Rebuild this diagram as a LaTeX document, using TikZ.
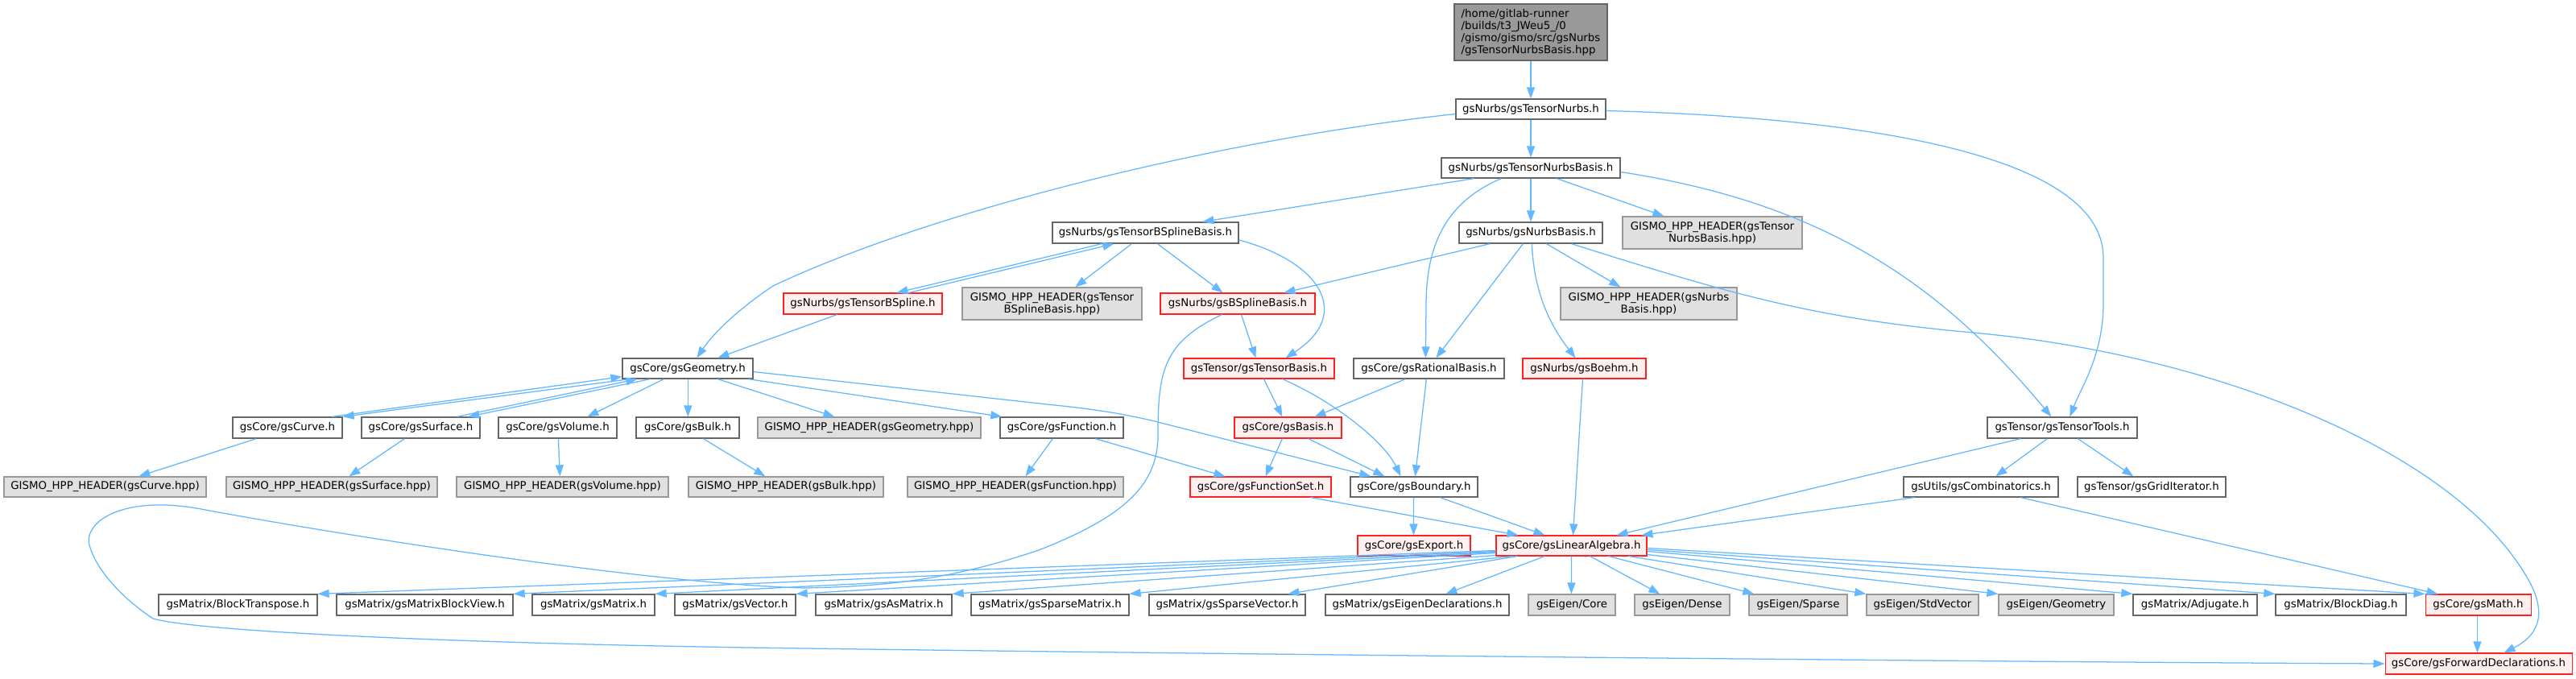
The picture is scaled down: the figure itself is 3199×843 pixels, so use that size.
\documentclass[tikz,border=0pt]{standalone}
\usepackage{fontspec}
\setmainfont{DejaVu Sans}
\usetikzlibrary{arrows.meta,calc}
\definecolor{edgec}{HTML}{63B8FF}
\definecolor{nborder}{HTML}{666666}
\definecolor{gborder}{HTML}{999999}
\definecolor{gfill}{HTML}{E0E0E0}
\definecolor{rfill}{HTML}{FFF0F0}
\definecolor{rborder}{HTML}{FF2020}
\definecolor{rootfill}{HTML}{999999}
\newcommand\mkbox[7]{\node[#1,minimum width={(#5-#3)*0.01cm},minimum height={(#6-#4)*0.01cm}] (#2) at ({(#3+#5)/2},{(#4+#6)/2}) {#7};}
\begin{document}
\begin{tikzpicture}[x=0.01cm,y=-0.01cm,
  box/.style={rectangle, inner sep=0pt, line width=0.36pt, font=\fontsize{3.79pt}{4.25pt}\selectfont, text=black, align=center},
  nn/.style={box, draw=nborder, fill=white},
  rn/.style={box, draw=rborder, fill=rfill, line width=0.3pt},
  gn/.style={box, draw=gborder, fill=gfill},
  rootn/.style={box, draw=nborder, fill=rootfill, align=left},
  e/.style={draw=edgec, line width=0.36pt, -{Triangle[length=0.14cm,width=0.10cm]}}]
\fill[white] (0,0) rectangle (3199,843);
\useasboundingbox (0,0) rectangle (3199,843);

% ---------------- nodes ----------------
\mkbox{rootn}{root}{1806}{5}{1996}{75}{/home/gitlab-runner\\/builds/t3\_JWeu5\_/0\\/gismo/gismo/src/gsNurbs\\/gsTensorNurbsBasis.hpp}
\mkbox{nn}{tnurbs}{1808}{123}{1994}{148}{gsNurbs/gsTensorNurbs.h}
\mkbox{nn}{tnb}{1790}{196}{2012}{221}{gsNurbs/gsTensorNurbsBasis.h}
\mkbox{nn}{tbsb}{1307}{276}{1538}{302}{gsNurbs/gsTensorBSplineBasis.h}
\mkbox{nn}{nb}{1812}{276}{1990}{302}{gsNurbs/gsNurbsBasis.h}
\mkbox{gn}{hTNB}{2015}{269}{2238}{309}{GISMO\_HPP\_HEADER(gsTensor\\NurbsBasis.hpp)}
\mkbox{rn}{tbs}{973}{364}{1170}{390}{gsNurbs/gsTensorBSpline.h}
\mkbox{gn}{hTBSB}{1195}{357}{1418}{397}{GISMO\_HPP\_HEADER(gsTensor\\BSplineBasis.hpp)}
\mkbox{rn}{bsb}{1441}{364}{1633}{390}{gsNurbs/gsBSplineBasis.h}
\mkbox{gn}{hNB}{1938}{357}{2157}{397}{GISMO\_HPP\_HEADER(gsNurbs\\Basis.hpp)}
\mkbox{nn}{geo}{773}{445}{935}{470}{gsCore/gsGeometry.h}
\mkbox{rn}{tb}{1470}{445}{1657}{470}{gsTensor/gsTensorBasis.h}
\mkbox{nn}{rb}{1681}{445}{1868}{470}{gsCore/gsRationalBasis.h}
\mkbox{rn}{boehm}{1891}{445}{2044}{470}{gsNurbs/gsBoehm.h}
\mkbox{nn}{curve}{289}{518}{425}{544}{gsCore/gsCurve.h}
\mkbox{nn}{surface}{449}{518}{596}{544}{gsCore/gsSurface.h}
\mkbox{nn}{volume}{619}{518}{766}{544}{gsCore/gsVolume.h}
\mkbox{nn}{bulk}{790}{518}{918}{544}{gsCore/gsBulk.h}
\mkbox{gn}{hGeo}{941}{518}{1218}{544}{GISMO\_HPP\_HEADER(gsGeometry.hpp)}
\mkbox{nn}{func}{1242}{518}{1395}{544}{gsCore/gsFunction.h}
\mkbox{rn}{basis}{1533}{518}{1666}{544}{gsCore/gsBasis.h}
\mkbox{nn}{ttools}{2468}{518}{2654}{544}{gsTensor/gsTensorTools.h}
\mkbox{gn}{hCurve}{5}{592}{256}{617}{GISMO\_HPP\_HEADER(gsCurve.hpp)}
\mkbox{gn}{hSurf}{281}{592}{543}{617}{GISMO\_HPP\_HEADER(gsSurface.hpp)}
\mkbox{gn}{hVol}{567}{592}{830}{617}{GISMO\_HPP\_HEADER(gsVolume.hpp)}
\mkbox{gn}{hBulk}{855}{592}{1097}{617}{GISMO\_HPP\_HEADER(gsBulk.hpp)}
\mkbox{gn}{hFunc}{1127}{592}{1395}{617}{GISMO\_HPP\_HEADER(gsFunction.hpp)}
\mkbox{rn}{fset}{1478}{592}{1653}{617}{gsCore/gsFunctionSet.h}
\mkbox{nn}{bnd}{1677}{592}{1835}{617}{gsCore/gsBoundary.h}
\mkbox{nn}{comb}{2364}{592}{2556}{617}{gsUtils/gsCombinatorics.h}
\mkbox{nn}{grid}{2580}{592}{2764}{617}{gsTensor/gsGridIterator.h}
\mkbox{rn}{export}{1686}{665}{1826}{690}{gsCore/gsExport.h}
\mkbox{rn}{la}{1858}{665}{2045}{690}{gsCore/gsLinearAlgebra.h}
\mkbox{nn}{btr}{197}{738}{394}{764}{gsMatrix/BlockTranspose.h}
\mkbox{nn}{mbv}{418}{738}{637}{764}{gsMatrix/gsMatrixBlockView.h}
\mkbox{nn}{mat}{661}{738}{813}{764}{gsMatrix/gsMatrix.h}
\mkbox{nn}{vec}{838}{738}{988}{764}{gsMatrix/gsVector.h}
\mkbox{nn}{asm}{1013}{738}{1182}{764}{gsMatrix/gsAsMatrix.h}
\mkbox{nn}{spm}{1206}{738}{1402}{764}{gsMatrix/gsSparseMatrix.h}
\mkbox{nn}{spv}{1427}{738}{1621}{764}{gsMatrix/gsSparseVector.h}
\mkbox{nn}{eig}{1646}{738}{1874}{764}{gsMatrix/gsEigenDeclarations.h}
\mkbox{gn}{ecore}{1898}{738}{2006}{764}{gsEigen/Core}
\mkbox{gn}{edense}{2030}{738}{2148}{764}{gsEigen/Dense}
\mkbox{gn}{esparse}{2172}{738}{2294}{764}{gsEigen/Sparse}
\mkbox{gn}{estd}{2318}{738}{2457}{764}{gsEigen/StdVector}
\mkbox{gn}{egeo}{2482}{738}{2625}{764}{gsEigen/Geometry}
\mkbox{nn}{adj}{2649}{738}{2803}{764}{gsMatrix/Adjugate.h}
\mkbox{nn}{bdiag}{2826}{738}{2988}{764}{gsMatrix/BlockDiag.h}
\mkbox{rn}{math}{3012}{738}{3143}{764}{gsCore/gsMath.h}
\mkbox{rn}{fwd}{2962}{811}{3194}{837}{gsCore/gsForwardDeclarations.h}

% ---------------- edges ----------------
\draw[e] (root.south) -- (tnurbs.north);
\draw[e] (tnurbs.south) -- (tnb.north);
\draw[e] ($(tnurbs.west)+(0,6)$) .. controls (1500,175) and (1150,265) .. (960,355) .. controls (915,385) and (885,415) .. ($(geo.north west)+(93,0)$);
\draw[e] ($(tnurbs.east)+(0,2)$) .. controls (2350,147) and (2612,200) .. (2612,320) -- (2612,377) .. controls (2612,440) and (2585,480) .. ($(ttools.north west)+(103,0)$);
\draw[e] ($(tnb.south west)+(41,0)$) -- ($(tbsb.north west)+(187,0)$);
\draw[e] (tnb.south) -- (nb.north);
\draw[e] ($(tnb.south west)+(144,0)$) -- ($(hTNB.north west)+(52,0)$);
\draw[e] ($(tnb.south west)+(75,0)$) .. controls (1785,255) and (1771,320) .. (1771,380) -- ($(rb.north west)+(90,0)$);
\draw[e] ($(tnb.east)+(0,5)$) .. controls (2250,250) and (2400,340) .. ($(ttools.north west)+(80,0)$);
\draw[e] ($(tbsb.south west)+(62,0)$) -- ($(tbs.north west)+(141,0)$);
\draw[e] ($(tbs.north west)+(156,0)$) -- ($(tbsb.south west)+(77,0)$);
\draw[e] ($(tbsb.south west)+(99,0)$) -- ($(hTBSB.north west)+(141,0)$);
\draw[e] ($(tbsb.south west)+(131,0)$) -- ($(bsb.north west)+(78,0)$);
\draw[e] ($(tbsb.east)+(0,9)$) .. controls (1640,325) and (1680,390) .. ($(tb.north west)+(127,0)$);
\draw[e] ($(nb.south west)+(39,0)$) -- ($(bsb.north west)+(154,0)$);
\draw[e] ($(nb.south west)+(80,0)$) -- ($(rb.north west)+(103,0)$);
\draw[e] ($(nb.south west)+(91,0)$) .. controls (1905,370) and (1930,410) .. ($(boehm.north west)+(66,0)$);
\draw[e] ($(nb.south west)+(109,0)$) -- ($(hNB.north west)+(75,0)$);
\draw[e] ($(nb.south west)+(140,0)$) .. controls (2150,365) and (2250,395) .. (2450,413) .. controls (2750,440) and (3050,560) .. (3140,720) .. controls (3165,765) and (3150,790) .. ($(fwd.north west)+(148,0)$);
\draw[e] ($(tbs.south west)+(67,0)$) -- ($(geo.north west)+(119,0)$);
\draw[e] ($(bsb.south west)+(101,0)$) -- ($(tb.north west)+(90,0)$);
\draw[e] ($(bsb.south west)+(77,0)$) .. controls (1445,425) and (1438,460) .. (1438,540) .. controls (1438,600) and (1400,640) .. (1290,683) .. controls (1180,720) and (1100,728) .. (1000,730) .. controls (800,725) and (400,660) .. (255,633) .. controls (150,612) and (100,650) .. (112,680) .. controls (125,720) and (170,755) .. (190,768) .. controls (250,785) and (600,800) .. (1000,805) .. controls (1500,812) and (2500,822) .. (fwd.west);
% geometry family
\draw[e] ($(geo.south west)+(10,0)$) -- (curve.north east);
\draw[e] ($(curve.north west)+(124,0)$) -- ($(geo.south west)+(0,-3)$);
\draw[e] ($(geo.south west)+(35,0)$) -- ($(surface.north west)+(133,0)$);
\draw[e] ($(surface.north west)+(119,0)$) -- ($(geo.south west)+(19,0)$);
\draw[e] ($(geo.south west)+(52,0)$) -- ($(volume.north west)+(111,0)$);
\draw[e] ($(geo.south west)+(82,0)$) -- ($(bulk.north west)+(65,0)$);
\draw[e] ($(geo.south west)+(119,0)$) -- ($(hGeo.north west)+(96,0)$);
\draw[e] ($(geo.south west)+(157,0)$) -- ($(func.north west)+(3,0)$);
\draw[e] ($(geo.east)+(0,4)$) -- (1300,502) .. controls (1360,508) and (1390,513) .. (1430,522) -- ($(bnd.north west)+(26,0)$);
\draw[e] ($(curve.south west)+(30,0)$) -- ($(hCurve.north west)+(168,0)$);
\draw[e] ($(surface.south west)+(54,0)$) -- ($(hSurf.north west)+(153,0)$);
\draw[e] ($(volume.south west)+(75,0)$) -- ($(hVol.north west)+(129,0)$);
\draw[e] ($(bulk.south west)+(84,0)$) -- ($(hBulk.north west)+(96,0)$);
\draw[e] ($(func.south west)+(66,0)$) -- ($(hFunc.north west)+(147,0)$);
\draw[e] ($(func.south west)+(119,0)$) -- ($(fset.north west)+(44,0)$);
% basis family
\draw[e] ($(tb.south west)+(100,0)$) -- ($(basis.north west)+(60,0)$);
\draw[e] ($(tb.south west)+(123,0)$) .. controls (1660,500) and (1720,550) .. ($(bnd.north west)+(63,0)$);
\draw[e] ($(rb.south west)+(65,0)$) -- ($(basis.north west)+(100,0)$);
\draw[e] ($(rb.south west)+(91,0)$) -- ($(bnd.north west)+(81,0)$);
\draw[e] ($(basis.south west)+(60,0)$) -- ($(fset.north west)+(94,0)$);
\draw[e] ($(basis.south west)+(92,0)$) -- ($(bnd.north west)+(43,0)$);
\draw[e] ($(boehm.south west)+(75,0)$) -- ($(la.north west)+(96,0)$);
\draw[e] ($(fset.south west)+(150,0)$) -- ($(la.north west)+(28,0)$);
\draw[e] ($(bnd.south west)+(79,0)$) -- ($(export.north west)+(70,0)$);
\draw[e] ($(bnd.south west)+(112,0)$) -- ($(la.north west)+(61,0)$);
% tensor tools
\draw[e] ($(ttools.south west)+(42,0)$) -- ($(la.north west)+(150,0)$);
\draw[e] ($(ttools.south west)+(75,0)$) -- ($(comb.north west)+(115,0)$);
\draw[e] ($(ttools.south west)+(113,0)$) -- ($(grid.north west)+(70,0)$);
\draw[e] ($(comb.south west)+(14,0)$) -- ($(la.north west)+(181,0)$);
\draw[e] ($(comb.south west)+(146,0)$) -- ($(math.north west)+(16,0)$);
\draw[e] ($(math.south west)+(65,0)$) -- ($(fwd.north west)+(115,0)$);
% linear algebra fan
\draw[e] ($(la.west)+(0,6)$) -- (btr.north east);
\draw[e] ($(la.west)+(0,7)$) -- (mbv.north east);
\draw[e] ($(la.west)+(0,8)$) -- (mat.north east);
\draw[e] ($(la.west)+(0,9)$) -- (vec.north east);
\draw[e] ($(la.south west)+(0,-1)$) -- (asm.north east);
\draw[e] ($(la.south west)+(22,0)$) -- (spm.north east);
\draw[e] ($(la.south west)+(27,0)$) -- ($(spv.north west)+(173,0)$);
\draw[e] ($(la.south west)+(61,0)$) -- ($(eig.north west)+(150,0)$);
\draw[e] ($(la.south west)+(94,0)$) -- ($(ecore.north west)+(54,0)$);
\draw[e] ($(la.south west)+(117,0)$) -- ($(edense.north west)+(32,0)$);
\draw[e] ($(la.south west)+(140,0)$) -- ($(esparse.north west)+(7,0)$);
\draw[e] ($(la.south west)+(165,0)$) -- (estd.north west);
\draw[e] ($(la.south east)+(0,-2)$) -- (egeo.north west);
\draw[e] ($(la.east)+(0,7)$) -- (adj.north west);
\draw[e] ($(la.east)+(0,5)$) -- (bdiag.north west);
\draw[e] ($(la.east)+(0,3)$) -- (math.north west);
\end{tikzpicture}
\end{document}
